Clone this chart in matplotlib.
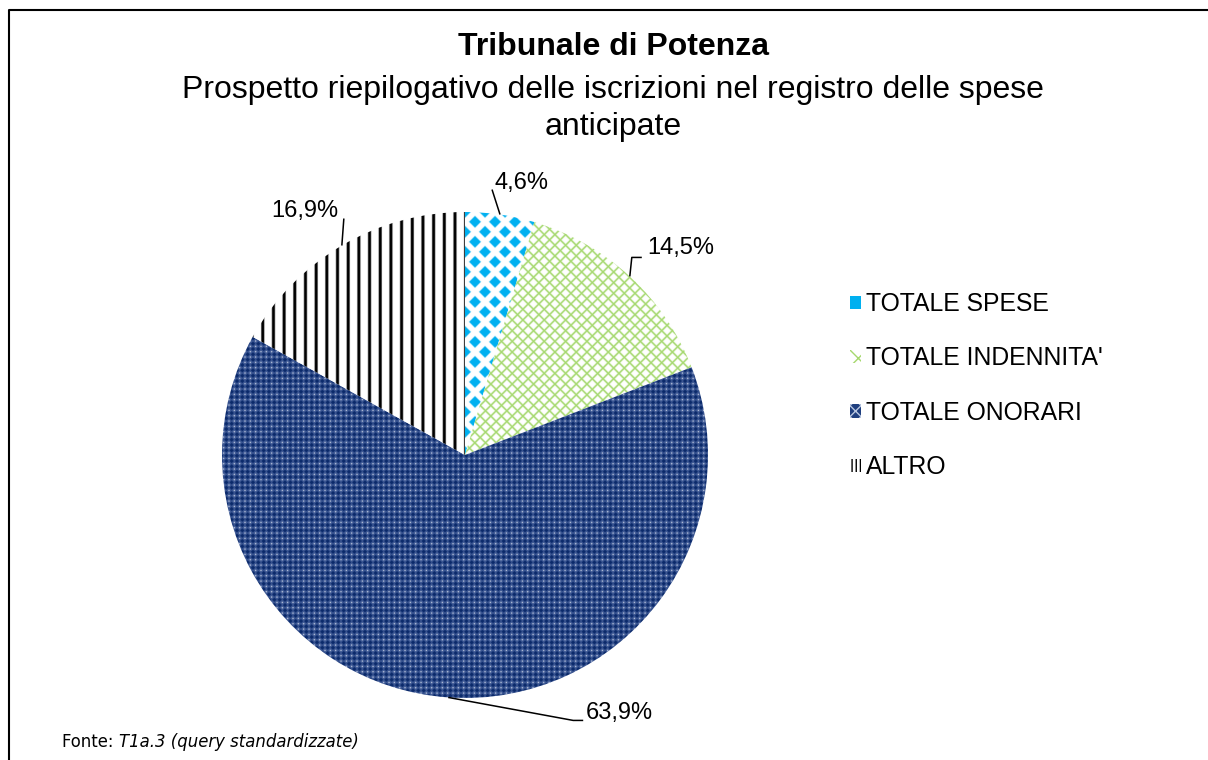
import numpy as np
import matplotlib
matplotlib.use("Agg")
import matplotlib.pyplot as plt
from matplotlib.patches import Patch
from matplotlib.lines import Line2D

# ---------------- data ----------------
categories = ["TOTALE SPESE", "TOTALE INDENNITA'", "TOTALE ONORARI", "ALTRO"]
values = [4.6, 14.5, 63.9, 16.9]
pct_labels = ["4,6%", "14,5%", "63,9%", "16,9%"]
title = "Tribunale di Potenza"
subtitle = "Prospetto riepilogativo delle iscrizioni nel registro delle spese\nanticipate"
source_prefix = "Fonte: "
source_italic = "T1a.3 (query standardizzate)"

FONT = ["Liberation Sans", "DejaVu Sans"]

W, H, DPI = 1208, 760, 100
fig = plt.figure(figsize=(W / DPI, H / DPI), dpi=DPI)
fig.patch.set_facecolor("white")

# pie geometry in figure pixels (from top-left)
CX, CY, R = 465, 455, 243
LIM = 1.25
side = 2 * LIM * R
ax = fig.add_axes([(CX - side / 2) / W, (H - CY - side / 2) / H, side / W, side / H])

wedges, _ = ax.pie(values, startangle=90, counterclock=False, radius=1,
                   colors=["white"] * 4, wedgeprops=dict(linewidth=0))
ax.set_xlim(-LIM, LIM)
ax.set_ylim(-LIM, LIM)
ax.axis("off")

# ---------------- fill textures (style only) ----------------
N = int(round(side)) * 2
xs = (np.arange(N) + 0.5) / N * side + (CX - side / 2)
ys = (np.arange(N) + 0.5) / N * side + (CY - side / 2)
X, Y = np.meshgrid(xs, ys)


def hexrgb(h):
    h = h.lstrip("#")
    return np.array([int(h[i:i + 2], 16) / 255 for i in (0, 2, 4)])


def compose(bg, layers):
    img = np.ones(X.shape + (3,)) * hexrgb(bg)
    for alpha, col in layers:
        a = alpha[..., None]
        img = img * (1 - a) + hexrgb(col) * a
    return img


# blue diamonds
p = 20.0
dx1 = (X - 465 + p / 2) % p - p / 2
dy1 = (Y - 212 + p / 2) % p - p / 2
dx2 = (X - 465) % p - p / 2
dy2 = (Y - 212) % p - p / 2
d = np.minimum(np.abs(dx1) + np.abs(dy1), np.abs(dx2) + np.abs(dy2))
tex_blue = compose("#ffffff", [(np.clip((6.6 - d) / 1.4, 0, 1), "#00b0f0")])

# green lattice
s = 10.67
u1 = (X + Y) % s
u2 = (X - Y) % s
g1 = np.minimum(u1, s - u1) / np.sqrt(2)
g2 = np.minimum(u2, s - u2) / np.sqrt(2)
ga = np.maximum(np.clip(1.3 - g1, 0, 1), np.clip(1.3 - g2, 0, 1)) * 0.85
tex_green = compose("#ffffff", [(ga, "#92d050")])

# navy small pattern
q = 5.33
u = (X % q) - q / 2
v = (Y % q) - q / 2
dark = np.clip((2.6 - (np.abs(u) + np.abs(v))) / 0.8, 0, 1)
light = np.clip((1.2 - ((q / 2 - np.abs(u)) + (q / 2 - np.abs(v)))) / 0.8, 0, 1)
tex_navy = compose("#3d5894", [(dark, "#0b2a6b"), (light, "#dfe6f2")])

# vertical stripes
t = 10.67
dv = np.abs(((X - 455 + t / 2) % t) - t / 2)
tex_vert = compose("#ffffff", [(np.clip(2.0 - dv, 0, 1), "#000000")])

textures = [tex_blue, tex_green, tex_navy, tex_vert]
for w, tex in zip(wedges, textures):
    im = ax.imshow(tex, extent=[-LIM, LIM, -LIM, LIM], origin="upper",
                   interpolation="antialiased", zorder=2)
    im.set_clip_path(w)
ax.set_xlim(-LIM, LIM)
ax.set_ylim(-LIM, LIM)

# ---------------- data labels with leader lines ----------------
# leader path offsets (px, y downwards) from the slice edge midpoint, and text anchor
leaders = [
    dict(path=[(0, 0), (-8, -25)], text=(-6, -32), ha="left"),
    dict(path=[(0, 0), (2, -19), (12, -19)], text=(17, -28), ha="left"),
    dict(path=[(0, 0), (125, 23), (135, 23)], text=(138, 16), ha="left"),
    dict(path=[(0, 0), (2, -27)], text=(-3, -35), ha="right"),
]
for w, lab, ld in zip(wedges, pct_labels, leaders):
    mid = np.deg2rad((w.theta1 + w.theta2) / 2)
    axp, ayp = np.cos(mid), np.sin(mid)
    px = [axp + ox / R for ox, oy in ld["path"]]
    py = [ayp - oy / R for ox, oy in ld["path"]]
    ax.plot(px, py, color="black", lw=1.1, zorder=3, solid_capstyle="butt")
    tx, ty = ld["text"]
    ax.text(axp + tx / R, ayp - ty / R, lab, ha=ld["ha"], va="center",
            fontsize=17, family=FONT, zorder=4)

# ---------------- legend ----------------
handles = [
    Patch(facecolor="#00b0f0", edgecolor="none", linewidth=0),
    Patch(facecolor="white", edgecolor="#a6d86e", hatch="xx", linewidth=0),
    Patch(facecolor="#1f3f7f", edgecolor="#b8c6e0", hatch="xxx", linewidth=0),
    Patch(facecolor="white", edgecolor="black", hatch="||||", linewidth=0),
]
leg = fig.legend(handles, categories, loc="upper left",
                 bbox_to_anchor=(850 / W, 1 - 292 / H), frameon=False,
                 prop=dict(family=FONT, size=17.8), handlelength=0.45,
                 handleheight=0.45, handletextpad=0.2, labelspacing=1.23,
                 borderpad=0, borderaxespad=0)

# ---------------- titles ----------------
fig.text(613 / W, 1 - 47 / H, title, ha="center", va="center", fontsize=23,
         weight="bold", family=FONT)
fig.text(613 / W, 1 - 108.5 / H, subtitle, ha="center", va="center",
         fontsize=23, family=FONT, linespacing=1.32)

# ---------------- source note ----------------
t1 = fig.text(62 / W, 1 - 742 / H, source_prefix, ha="left", va="center",
              fontsize=11.9, family=["DejaVu Sans"])
renderer = fig.canvas.get_renderer()
bb = t1.get_window_extent(renderer)
fig.text(bb.x1 / W, 1 - 742 / H, source_italic, ha="left", va="center",
         fontsize=11.9, family=["DejaVu Sans"], style="italic")

# ---------------- frame (left/top border) ----------------
fig.add_artist(Line2D([9 / W, 9 / W, 1], [0, 1 - 10 / H, 1 - 10 / H],
                      transform=fig.transFigure, color="black", lw=1.5))

fig.savefig("out.png", dpi=DPI, facecolor="white")
